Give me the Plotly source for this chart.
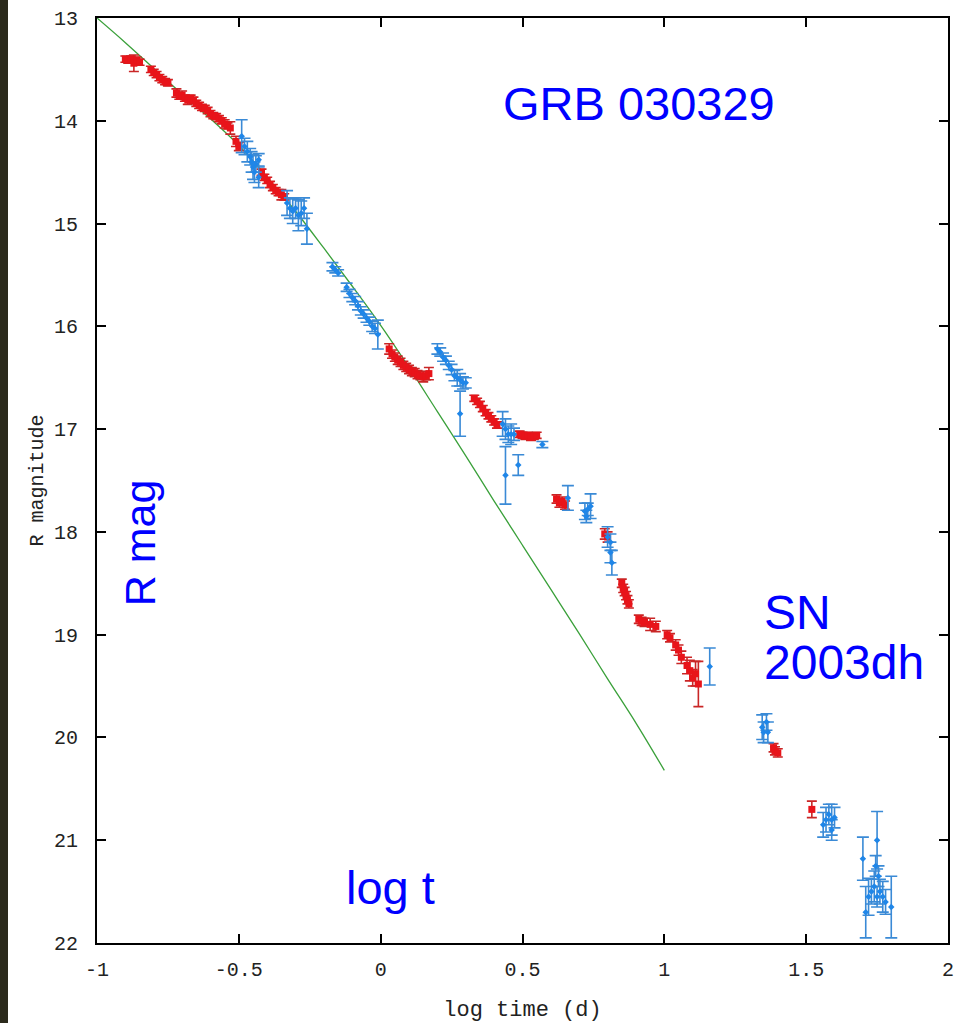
import plotly.graph_objects as go

# ---- data ----
line_x = [-1.0, -0.9, -0.8, -0.7, -0.6, -0.5, -0.4, -0.3, -0.2, -0.1, 0.0, 0.1, 0.2, 0.3, 0.4, 0.5, 0.6, 0.7, 0.8, 0.9, 1.0]
line_y = [13.0, 13.24, 13.49, 13.74, 13.98, 14.24, 14.55, 14.88, 15.24, 15.61, 15.99, 16.40, 16.83, 17.26, 17.70, 18.13, 18.56, 18.99, 19.43, 19.86, 20.32]

red_x = [-0.90, -0.89, -0.88, -0.87, -0.86, -0.85,
         -0.81, -0.80, -0.79, -0.78, -0.77, -0.76, -0.75,
         -0.72, -0.71, -0.70, -0.69, -0.68, -0.67, -0.66, -0.65, -0.64,
         -0.63, -0.62, -0.61, -0.60, -0.59, -0.58, -0.57, -0.56, -0.55, -0.54, -0.53,
         -0.51, -0.50,
         -0.42, -0.41, -0.40, -0.39, -0.38, -0.37, -0.36, -0.35, -0.34,
         0.03, 0.04, 0.05, 0.06, 0.07, 0.08, 0.09, 0.10, 0.11, 0.12, 0.13, 0.14, 0.15, 0.16, 0.17,
         0.33, 0.34, 0.35, 0.36, 0.37, 0.38, 0.39, 0.40, 0.41,
         0.49, 0.50, 0.51, 0.52, 0.53, 0.54, 0.55,
         0.62, 0.63, 0.64, 0.65,
         0.79, 0.80,
         0.85, 0.855, 0.86, 0.865, 0.87, 0.875,
         0.91, 0.92, 0.93, 0.95, 0.97,
         1.01, 1.02, 1.04, 1.05, 1.06,
         1.08, 1.09, 1.10, 1.11, 1.12,
         1.385, 1.39, 1.40,
         1.52]
red_y = [13.40, 13.41, 13.40, 13.44, 13.41, 13.43,
         13.50, 13.53, 13.55, 13.58, 13.60, 13.62, 13.63,
         13.73, 13.76, 13.75, 13.78, 13.80, 13.78, 13.80, 13.83, 13.85,
         13.87, 13.88, 13.90, 13.93, 13.95, 13.96, 13.98, 14.00, 14.03, 14.05, 14.07,
         14.20, 14.25,
         14.50, 14.55, 14.58, 14.62, 14.65, 14.68, 14.70, 14.72, 14.74,
         16.22, 16.27, 16.30, 16.33, 16.35, 16.38, 16.40, 16.42, 16.44, 16.45, 16.47, 16.48, 16.49, 16.48, 16.46,
         16.70, 16.73, 16.76, 16.80, 16.84, 16.87, 16.90, 16.93, 16.96,
         17.05, 17.06, 17.07, 17.06, 17.08, 17.07, 17.06,
         17.68, 17.72, 17.70, 17.74,
         18.02, 18.05,
         18.50, 18.55, 18.58, 18.62, 18.66, 18.70,
         18.85, 18.87, 18.88, 18.90, 18.92,
         19.00, 19.03, 19.10, 19.15, 19.22,
         19.30, 19.35, 19.42, 19.38, 19.48,
         20.10, 20.13, 20.15,
         20.70]
red_err = [0.03, 0.03, 0.03, 0.08, 0.03, 0.03,
           0.03, 0.03, 0.03, 0.03, 0.03, 0.03, 0.03,
           0.04, 0.03, 0.04, 0.03, 0.04, 0.03, 0.03, 0.03, 0.03,
           0.03, 0.03, 0.03, 0.03, 0.03, 0.03, 0.03, 0.03, 0.04, 0.03, 0.06,
           0.05, 0.04,
           0.03, 0.03, 0.03, 0.03, 0.03, 0.03, 0.03, 0.05, 0.03,
           0.05, 0.04, 0.04, 0.04, 0.04, 0.04, 0.04, 0.04, 0.04, 0.04, 0.04, 0.04, 0.05, 0.04, 0.06,
           0.03, 0.03, 0.03, 0.03, 0.03, 0.03, 0.03, 0.03, 0.03,
           0.03, 0.03, 0.03, 0.03, 0.03, 0.03, 0.03,
           0.04, 0.04, 0.04, 0.04,
           0.05, 0.05,
           0.04, 0.04, 0.04, 0.04, 0.04, 0.04,
           0.04, 0.04, 0.04, 0.06, 0.05,
           0.04, 0.04, 0.05, 0.05, 0.06,
           0.08, 0.10, 0.08, 0.12, 0.22,
           0.04, 0.04, 0.04,
           0.08]

blue_x = [-0.49, -0.48, -0.47, -0.46, -0.455, -0.45, -0.445, -0.44, -0.43, -0.43,
          -0.33, -0.32, -0.31, -0.30, -0.29, -0.28, -0.27, -0.26,
          -0.17, -0.16, -0.15, -0.12, -0.11, -0.10, -0.09, -0.08, -0.07, -0.06, -0.05, -0.04, -0.03, -0.02, -0.01,
          0.20, 0.21, 0.22, 0.23, 0.24, 0.25, 0.26, 0.27, 0.28, 0.29, 0.30, 0.28,
          0.43, 0.44, 0.45, 0.46, 0.47, 0.44, 0.485, 0.57,
          0.66, 0.72, 0.73, 0.74, 0.725,
          0.80, 0.81, 0.81, 0.815,
          1.16,
          1.345, 1.35, 1.36, 1.365,
          1.56, 1.57, 1.58, 1.59, 1.60, 1.59,
          1.70, 1.75, 1.72, 1.73, 1.74, 1.75, 1.76, 1.77, 1.78, 1.71, 1.80, 1.755, 1.745]
blue_y = [14.15, 14.25, 14.30, 14.35, 14.40, 14.45, 14.50, 14.42, 14.38, 14.55,
          14.80, 14.85, 14.88, 14.85, 14.92, 14.90, 14.85, 15.05,
          15.42, 15.45, 15.48, 15.62, 15.68, 15.72, 15.75, 15.80, 15.85, 15.88, 15.92, 15.95, 16.00, 16.02, 16.08,
          16.22, 16.25, 16.30, 16.33, 16.38, 16.42, 16.48, 16.50, 16.52, 16.55, 16.55, 16.85,
          16.95, 17.00, 17.05, 17.05, 17.05, 17.45, 17.35, 17.15,
          17.67, 17.80, 17.78, 17.75, 17.85,
          18.05, 18.10, 18.20, 18.30,
          19.31,
          19.90, 19.95, 19.85, 19.95,
          20.85, 20.80, 20.75, 20.80, 20.78, 20.90,
          21.18, 21.00, 21.55, 21.50, 21.45, 21.55, 21.50, 21.55, 21.60, 21.70, 21.65, 21.35, 21.25]
blue_err = [0.16, 0.08, 0.10, 0.08, 0.10, 0.12, 0.10, 0.08, 0.06, 0.10,
            0.12, 0.10, 0.12, 0.10, 0.15, 0.12, 0.10, 0.15,
            0.04, 0.03, 0.03, 0.04, 0.04, 0.04, 0.04, 0.04, 0.04, 0.04, 0.04, 0.04, 0.05, 0.05, 0.14,
            0.05, 0.04, 0.04, 0.04, 0.04, 0.05, 0.05, 0.08, 0.06, 0.06, 0.05, 0.22,
            0.12, 0.10, 0.08, 0.10, 0.06, 0.28, 0.10, 0.03,
            0.12, 0.08, 0.06, 0.12, 0.06,
            0.10, 0.08, 0.10, 0.12,
            0.18,
            0.12, 0.10, 0.08, 0.10,
            0.12, 0.12, 0.10, 0.15, 0.10, 0.10,
            0.21, 0.28, 0.18, 0.12, 0.15, 0.10, 0.12, 0.15, 0.12, 0.25, 0.30, 0.10, 0.10]

x_ticks = [-1, -0.5, 0, 0.5, 1, 1.5, 2]
x_tick_text = ["-1", "-0.5", "0", "0.5", "1", "1.5", "2"]
y_ticks = [13, 14, 15, 16, 17, 18, 19, 20, 21, 22]
y_tick_text = ["13", "14", "15", "16", "17", "18", "19", "20", "21", "22"]

RED = "#e8141a"
RED_BAR = "#c92626"
BLUE = "#1f86e8"
BLUE_BAR = "#3a8ad6"
GREEN = "#3aa03a"
TXT = "#0000ff"
MONO = "Liberation Mono, DejaVu Sans Mono, monospace"
SANS = "Liberation Sans, Arial, sans-serif"

fig = go.Figure()

fig.add_trace(go.Scatter(
    x=line_x, y=line_y, mode="lines", line_shape="spline",
    line=dict(color=GREEN, width=1.3), hoverinfo="skip", showlegend=False))

fig.add_trace(go.Scatter(
    x=red_x, y=red_y, mode="markers",
    marker=dict(symbol="square", size=7, color=RED, line=dict(width=0)),
    error_y=dict(type="data", array=red_err, visible=True, color=RED_BAR, thickness=1.6, width=5),
    showlegend=False))

fig.add_trace(go.Scatter(
    x=blue_x, y=blue_y, mode="markers",
    marker=dict(symbol="diamond", size=5, color=BLUE, line=dict(width=0)),
    error_y=dict(type="data", array=blue_err, visible=True, color=BLUE_BAR, thickness=1.6, width=6),
    showlegend=False))

axis_common = dict(
    showgrid=False, zeroline=False, showline=True, linecolor="black", linewidth=2,
    mirror="ticks", ticks="inside", ticklen=9, tickwidth=1.5, tickcolor="black",
    tickfont=dict(family=MONO, size=20, color="#222222"), automargin=False,
)

fig.update_layout(
    width=959, height=1023,
    margin=dict(l=97, r=11, t=18, b=80),
    paper_bgcolor="white", plot_bgcolor="white",
    xaxis=dict(range=[-1, 2], tickvals=x_ticks, ticktext=x_tick_text,
               title=dict(text="log time (d)", font=dict(family=MONO, size=22, color="#222222"), standoff=22),
               ticklabelstandoff=7, **axis_common),
    yaxis=dict(range=[22, 13], tickvals=y_ticks, ticktext=y_tick_text,
               title=dict(text="R magnitude", font=dict(family=MONO, size=20, color="#222222"), standoff=5),
               ticklabelstandoff=13, **axis_common),
    annotations=[
        dict(x=0.91, y=13.83, text="GRB 030329", showarrow=False, xref="x", yref="y",
             font=dict(family=SANS, size=47, color=TXT)),
        dict(x=1.344, y=18.78, text="SN", showarrow=False, xref="x", yref="y",
             xanchor="left", align="left", font=dict(family=SANS, size=48, color=TXT)),
        dict(x=1.344, y=19.27, text="2003dh", showarrow=False, xref="x", yref="y",
             xanchor="left", align="left", font=dict(family=SANS, size=48, color=TXT)),
        dict(x=0.036, y=21.46, text="log t", showarrow=False, xref="x", yref="y",
             font=dict(family=SANS, size=47, color=TXT)),
        dict(x=-0.848, y=18.11, text="R mag", showarrow=False, xref="x", yref="y", textangle=-90,
             font=dict(family=SANS, size=43, color=TXT)),
    ],
    shapes=[
        # dark slide edge at the far left of the picture
        dict(type="rect", xref="paper", yref="paper",
             x0=-97 / 851, x1=-89 / 851, y0=-80 / 925, y1=1 + 18 / 925,
             fillcolor="#2b2a1c", line=dict(width=0), layer="above"),
    ],
)

fig.write_html(
    "out.html",
    config={"displayModeBar": False},
    post_script=(
        "document.documentElement.style.margin='0';document.body.style.margin='0';"
        "document.documentElement.style.overflow='hidden';document.body.style.overflow='hidden';"
        "var gd=document.getElementById('{plot_id}');"
        "Plotly.relayout(gd,{width:959,height:1023});"
    ),
)
